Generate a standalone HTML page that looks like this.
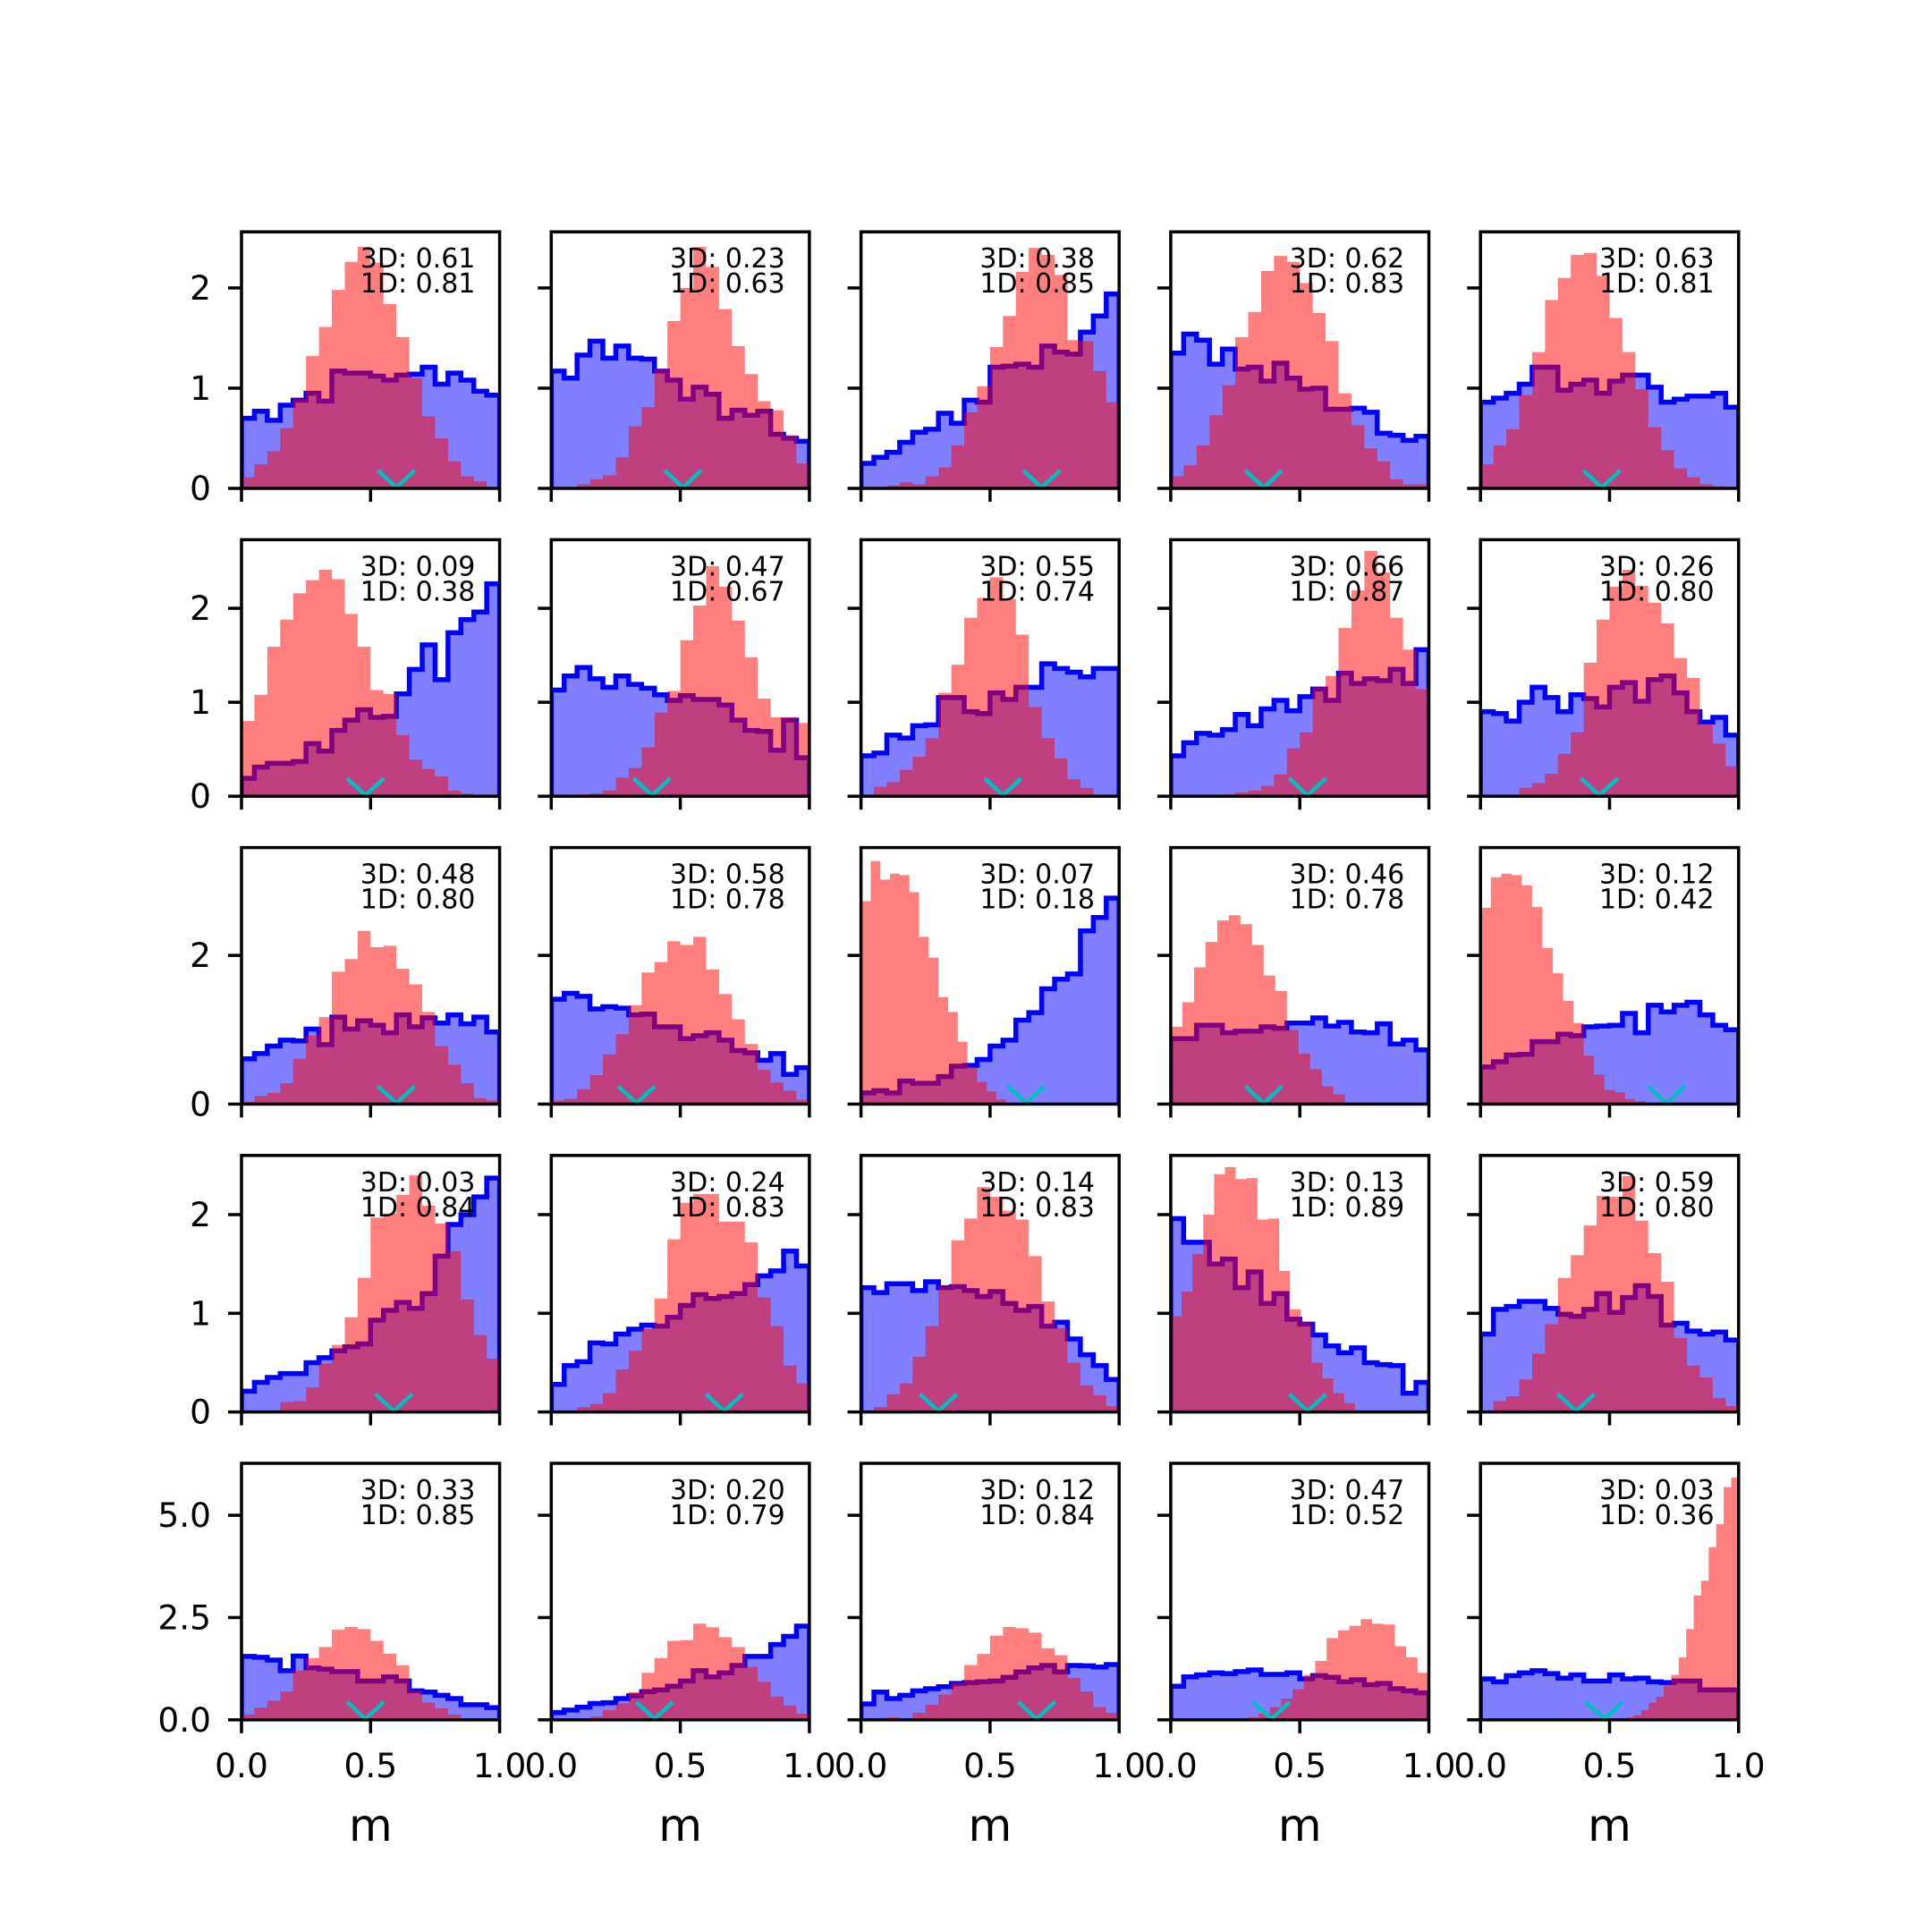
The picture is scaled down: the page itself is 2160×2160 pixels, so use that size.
<!DOCTYPE html>
<html><head><meta charset="utf-8"><title>Histogram grid</title>
<style>html,body{margin:0;padding:0;background:#fff}svg{display:block}</style></head>
<body>
<svg id="fig" xmlns="http://www.w3.org/2000/svg" width="2160" height="2160" viewBox="0 0 2160 2160" font-family="'DejaVu Sans','Liberation Sans',sans-serif">
<rect width="2160" height="2160" fill="#fff"/>
</svg>
<script>
const blueVals = [
[0.70,0.77,0.68,0.83,0.88,0.95,0.87,1.17,1.15,1.15,1.12,1.08,1.13,1.14,1.21,1.04,1.15,1.08,0.97,0.93],
[1.17,1.10,1.33,1.47,1.30,1.42,1.30,1.29,1.17,1.08,0.89,1.01,0.94,0.70,0.78,0.73,0.77,0.54,0.50,0.47],
[0.25,0.31,0.36,0.46,0.56,0.59,0.75,0.65,0.88,0.86,1.21,1.22,1.24,1.21,1.42,1.36,1.34,1.56,1.72,1.94],
[1.35,1.54,1.48,1.24,1.39,1.19,1.21,1.07,1.25,1.10,0.99,1.00,0.79,0.79,0.80,0.76,0.55,0.53,0.48,0.52],
[0.86,0.90,0.95,1.04,1.21,1.21,0.98,1.04,1.08,0.95,1.07,1.13,1.13,1.01,0.86,0.89,0.92,0.92,0.95,0.81],
[0.19,0.31,0.35,0.35,0.37,0.56,0.48,0.70,0.81,0.92,0.84,0.85,1.09,1.35,1.61,1.24,1.74,1.88,1.96,2.26],
[1.13,1.28,1.37,1.25,1.16,1.28,1.19,1.15,1.08,1.02,1.07,1.03,1.03,0.97,0.81,0.70,0.69,0.49,0.81,0.41],
[0.43,0.46,0.65,0.62,0.75,0.76,1.05,1.05,0.90,0.88,1.10,1.03,1.16,1.16,1.41,1.36,1.32,1.27,1.36,1.36],
[0.43,0.57,0.67,0.65,0.71,0.87,0.75,0.93,1.02,0.91,1.06,1.14,1.02,1.31,1.20,1.25,1.23,1.35,1.20,1.56],
[0.90,0.88,0.80,1.00,1.16,1.05,0.90,1.08,1.04,0.95,1.16,1.21,1.01,1.24,1.28,1.10,0.90,0.79,0.84,0.65],
[0.61,0.68,0.78,0.86,0.85,1.01,0.80,1.17,1.01,1.12,1.06,0.96,1.20,1.04,1.16,1.09,1.20,1.08,1.17,0.97],
[1.41,1.49,1.45,1.28,1.31,1.29,1.20,1.21,1.04,1.04,0.88,0.92,0.96,0.86,0.72,0.69,0.59,0.68,0.40,0.49],
[0.15,0.18,0.15,0.31,0.28,0.28,0.37,0.51,0.52,0.60,0.78,0.86,1.13,1.23,1.55,1.68,1.75,2.33,2.51,2.77],
[0.88,0.88,1.06,1.06,0.96,0.98,0.98,1.04,1.02,1.09,1.09,1.16,1.05,1.10,0.97,0.96,1.08,0.81,0.86,0.73],
[0.50,0.57,0.66,0.67,0.84,0.84,0.94,0.92,1.04,1.05,1.06,1.22,0.96,1.33,1.24,1.33,1.37,1.20,1.06,1.00],
[0.21,0.30,0.35,0.39,0.39,0.50,0.55,0.62,0.66,0.69,0.93,1.03,1.11,1.05,1.20,1.58,1.90,2.00,2.18,2.37],
[0.28,0.47,0.51,0.70,0.69,0.79,0.84,0.88,0.87,0.96,1.08,1.19,1.15,1.17,1.20,1.29,1.38,1.43,1.63,1.48],
[1.26,1.21,1.30,1.30,1.23,1.32,1.26,1.27,1.23,1.17,1.22,1.10,1.03,1.07,0.87,0.91,0.74,0.58,0.47,0.33],
[1.96,1.72,1.72,1.50,1.55,1.26,1.42,1.10,1.20,0.94,0.89,0.78,0.67,0.60,0.65,0.50,0.48,0.47,0.19,0.30],
[0.79,1.04,1.07,1.12,1.12,1.05,0.99,0.97,1.04,1.20,1.01,1.16,1.28,1.17,0.88,0.90,0.82,0.79,0.81,0.73],
[1.55,1.53,1.46,1.20,1.56,1.27,1.24,1.18,1.18,0.95,0.95,1.05,0.95,0.71,0.68,0.60,0.52,0.37,0.37,0.30],
[0.18,0.24,0.31,0.40,0.42,0.52,0.59,0.69,0.73,0.82,0.95,1.20,1.05,1.15,1.33,1.55,1.55,1.84,2.04,2.29],
[0.39,0.68,0.52,0.60,0.71,0.76,0.81,0.89,0.91,0.93,0.95,1.04,1.17,1.27,1.33,1.17,1.33,1.32,1.29,1.35],
[0.82,1.05,1.10,1.15,1.13,1.18,1.22,1.11,1.11,1.15,1.00,1.08,1.04,0.93,0.98,0.86,0.89,0.76,0.71,0.66],
[1.00,0.93,1.08,1.15,1.20,1.13,1.02,1.10,0.95,0.95,1.10,1.00,1.02,0.93,0.91,0.95,0.95,0.73,0.73,0.73]
];
const redVals = [
[0.11,0.24,0.37,0.60,0.89,1.32,1.61,1.98,2.26,2.41,2.25,1.84,1.51,1.10,0.72,0.50,0.27,0.12,0.07,0.01],
[0,0,0.04,0.09,0.13,0.31,0.62,0.81,1.19,1.67,2.00,2.41,2.21,1.79,1.42,1.14,0.87,0.78,0.53,0.25],
[0,0,0.03,0.06,0.04,0.12,0.21,0.43,0.76,1.02,1.41,1.72,2.16,2.40,2.33,2.13,1.48,1.47,1.17,0.86],
[0.12,0.23,0.43,0.73,1.03,1.51,1.76,2.17,2.32,2.26,2.05,1.75,1.47,0.95,0.63,0.40,0.27,0.09,0.04,0.04],
[0.24,0.43,0.59,0.93,1.36,1.88,2.10,2.33,2.35,2.12,1.70,1.36,0.99,0.61,0.38,0.20,0.11,0.04,0.02,0],
[0.80,1.08,1.59,1.88,2.16,2.30,2.41,2.31,1.94,1.59,1.13,1.09,0.65,0.39,0.29,0.21,0.06,0.03,0.01,0],
[0,0,0.02,0.03,0.06,0.20,0.30,0.52,0.89,1.12,1.66,2.03,2.45,2.23,1.87,1.48,1.04,0.84,0.84,0.78],
[0,0.10,0.15,0.28,0.42,0.62,1.10,1.40,1.90,2.11,2.33,2.10,1.72,0.95,0.62,0.40,0.18,0.09,0,0],
[0,0,0,0.01,0.02,0.04,0.06,0.11,0.23,0.51,0.68,1.16,1.28,1.79,2.19,2.61,2.38,1.90,1.56,1.14],
[0,0,0,0.09,0.14,0.24,0.45,0.68,1.42,1.88,2.23,2.41,2.24,2.06,1.84,1.47,1.26,0.77,0.56,0.32],
[0.03,0.11,0.15,0.28,0.61,0.92,1.17,1.78,1.95,2.33,2.11,2.13,1.82,1.61,1.24,0.78,0.53,0.28,0.08,0.05],
[0.05,0.07,0.20,0.39,0.67,0.94,1.33,1.77,1.91,2.19,2.14,2.25,1.81,1.48,1.14,0.81,0.46,0.29,0.18,0.06],
[2.73,3.27,3.02,3.10,3.08,2.85,2.25,1.97,1.44,1.24,0.84,0.50,0.30,0.17,0.06,0.02,0.01,0,0,0],
[1.04,1.37,1.84,2.18,2.47,2.54,2.42,2.14,1.73,1.52,1.00,0.68,0.47,0.24,0.13,0.02,0.02,0,0,0],
[2.64,3.05,3.10,3.08,2.94,2.65,2.10,1.76,1.39,1.09,0.65,0.40,0.19,0.16,0.07,0.04,0,0,0,0],
[0,0,0,0.10,0.11,0.25,0.49,0.68,0.96,1.36,1.97,2.01,2.20,2.40,2.09,1.91,1.63,1.14,0.78,0.54],
[0,0,0.05,0.08,0.19,0.43,0.62,0.84,1.15,1.75,2.12,2.21,2.21,1.93,1.93,1.72,1.16,0.87,0.47,0.29],
[0,0.05,0.18,0.29,0.56,0.87,1.28,1.74,1.96,2.28,2.18,2.04,1.95,1.58,1.12,0.85,0.50,0.27,0.17,0.06],
[0.97,1.22,1.60,2.00,2.41,2.48,2.36,2.37,1.95,1.96,1.43,1.04,0.91,0.50,0.34,0.19,0.09,0.01,0,0],
[0,0.11,0.16,0.33,0.59,0.89,1.36,1.59,1.89,2.19,2.18,2.39,1.94,1.61,1.32,0.75,0.47,0.35,0.14,0.06],
[0.13,0.30,0.47,0.69,1.20,1.51,1.78,2.20,2.27,2.22,1.93,1.62,1.33,0.71,0.42,0.28,0.13,0.04,0.02,0],
[0,0,0.04,0.08,0.24,0.40,0.68,1.15,1.51,1.93,1.95,2.35,2.26,2.02,1.78,1.29,0.93,0.57,0.35,0.15],
[0,0,0.06,0.04,0.17,0.37,0.62,0.91,1.34,1.61,2.06,2.27,2.24,2.13,1.75,1.58,1.02,0.69,0.31,0.17],
[0,0,0,0.01,0.06,0.15,0.31,0.52,0.75,1.10,1.44,2.00,2.19,2.30,2.46,2.35,2.33,1.80,1.53,1.15],
[0,0,0,0,0.02,0.06,0.11,0.24,0.42,0.57,0.84,1.10,1.53,2.22,3.04,3.40,4.22,4.78,5.69,5.92]
];
const redLo = [0,0,0,0,0, 0,0,0,0,0, 0,0,0,0,0, 0,0,0,0,0, 0,0,0,0.12,0.42];
const redHi = [1,1,1,1,1, 1,1,1,1,1, 1,1,0.75,0.9,0.8, 1,1,1,0.84,1, 1,1,1,1,1];
const markerX = [0.60,0.51,0.70,0.36,0.47, 0.48,0.39,0.55,0.53,0.46, 0.60,0.33,0.64,0.36,0.72, 0.59,0.67,0.30,0.53,0.37, 0.48,0.40,0.68,0.39,0.48];
const score3D = ["0.61","0.23","0.38","0.62","0.63","0.09","0.47","0.55","0.66","0.26","0.48","0.58","0.07","0.46","0.12","0.03","0.24","0.14","0.13","0.59","0.33","0.20","0.12","0.47","0.03"];
const score1D = ["0.81","0.63","0.85","0.83","0.81","0.38","0.67","0.74","0.87","0.80","0.80","0.78","0.18","0.78","0.42","0.84","0.83","0.83","0.89","0.80","0.85","0.79","0.84","0.52","0.36"];
const rowYMax = [2.56, 2.73, 3.45, 2.60, 6.27];
const rowTicks = [[0,1,2],[0,1,2],[0,2],[0,1,2],[0,2.5,5]];
const rowTickLabels = [["0","1","2"],["0","1","2"],["0","2"],["0","1","2"],["0.0","2.5","5.0"]];
const xTicks = [0,0.5,1];
const xTickLabels = ["0.0","0.5","1.0"];

const NS = "http://www.w3.org/2000/svg";
const svg = document.getElementById('fig');
const X0 = 270, DX = 346.3, PW = 288.6, Y0 = 259.2, DY = 344.2, PH = 286.8, TL = 15;
function mk(tag, attrs, parent) {
  const e = document.createElementNS(NS, tag);
  for (const k in attrs) e.setAttribute(k, attrs[k]);
  (parent || svg).appendChild(e);
  return e;
}
const defs = mk('defs', {});
for (let i = 0; i < 25; i++) {
  const r = Math.floor(i / 5), c = i % 5;
  const x0 = X0 + c * DX, y0 = Y0 + r * DY;
  const xs = v => x0 + v * PW;
  const ys = v => y0 + PH - v / rowYMax[r] * PH;
  const cp = mk('clipPath', {id: 'clip' + i}, defs);
  mk('rect', {x: x0, y: y0, width: PW, height: PH}, cp);
  const g = mk('g', {});
  
  
  const pg = mk('g', {'clip-path': 'url(#clip' + i + ')'}, g);
  const bv = blueVals[i], nb = bv.length;
  let d = 'M' + xs(0) + ',' + ys(0);
  for (let k = 0; k < nb; k++) {
    d += ' L' + xs(k / nb) + ',' + ys(bv[k]) + ' L' + xs((k + 1) / nb) + ',' + ys(bv[k]);
  }
  d += ' L' + xs(1) + ',' + ys(0);
  const bf = mk('path', {d: d + ' Z', fill: '#0000ff', 'fill-opacity': 0.5, stroke: 'none'}, pg);
  
  
  const bl = mk('path', {d: d, fill: 'none', stroke: '#0000ff', 'stroke-width': 5.5, 'stroke-linejoin': 'miter'}, pg);
  
  
  const rv = redVals[i], nr = rv.length, lo = redLo[i], hi = redHi[i];
  let rd = 'M' + xs(lo) + ',' + ys(0);
  for (let k = 0; k < nr; k++) {
    const a = lo + (hi - lo) * k / nr, b = lo + (hi - lo) * (k + 1) / nr;
    rd += ' L' + xs(a) + ',' + ys(rv[k]) + ' L' + xs(b) + ',' + ys(rv[k]);
  }
  rd += ' L' + xs(hi) + ',' + ys(0) + ' Z';
  const rf = mk('path', {d: rd, fill: '#ff0000', 'fill-opacity': 0.5, stroke: 'none'}, pg);
  
  
  const mx = xs(markerX[i]), my = ys(0) - 1;
  const mm = mk('polyline', {points: (mx - 20.5) + ',' + (my - 19) + ' ' + mx + ',' + my + ' ' + (mx + 20.5) + ',' + (my - 19), fill: 'none', stroke: '#00bfbf', 'stroke-width': 4.5}, g);
  
  
  const t1 = mk('text', {x: x0 + 0.46 * PW, y: y0 + 40, 'font-size': 30, fill: '#000'}, g);
  t1.textContent = '3D: ' + score3D[i];
  
  
  const t2 = mk('text', {x: x0 + 0.46 * PW, y: y0 + 68, 'font-size': 30, fill: '#000'}, g);
  t2.textContent = '1D: ' + score1D[i];
  
  
  const sp = mk('rect', {x: x0, y: y0, width: PW, height: PH, fill: 'none', stroke: '#000', 'stroke-width': 3.5}, g);
  
  
  rowTicks[r].forEach((tv, ti) => {
    const yy = ys(tv);
    const tk = mk('line', {x1: x0 - TL, y1: yy, x2: x0, y2: yy, stroke: '#000', 'stroke-width': 3.5}, g);
    
    
    if (c === 0) {
      const tl = mk('text', {x: x0 - 34, y: yy, 'font-size': 37.5, 'text-anchor': 'end', 'dominant-baseline': 'central', fill: '#000'}, g);
      tl.textContent = rowTickLabels[r][ti];
      
      
    }
  });
  xTicks.forEach((tv, ti) => {
    const xx = xs(tv);
    const tk = mk('line', {x1: xx, y1: y0 + PH, x2: xx, y2: y0 + PH + TL, stroke: '#000', 'stroke-width': 3.5}, g);
    
    
    if (r === 4) {
      const tl = mk('text', {x: xx, y: y0 + PH + 51, 'font-size': 37.5, 'text-anchor': 'middle', 'dominant-baseline': 'central', fill: '#000'}, g);
      tl.textContent = xTickLabels[ti];
      
      
    }
  });
  if (r === 4) {
    const xl = mk('text', {x: xs(0.5), y: y0 + PH + 118, 'font-size': 50, 'text-anchor': 'middle', 'dominant-baseline': 'central', fill: '#000'}, g);
    xl.textContent = 'm';
    
    
  }
}
</script>
</body></html>
